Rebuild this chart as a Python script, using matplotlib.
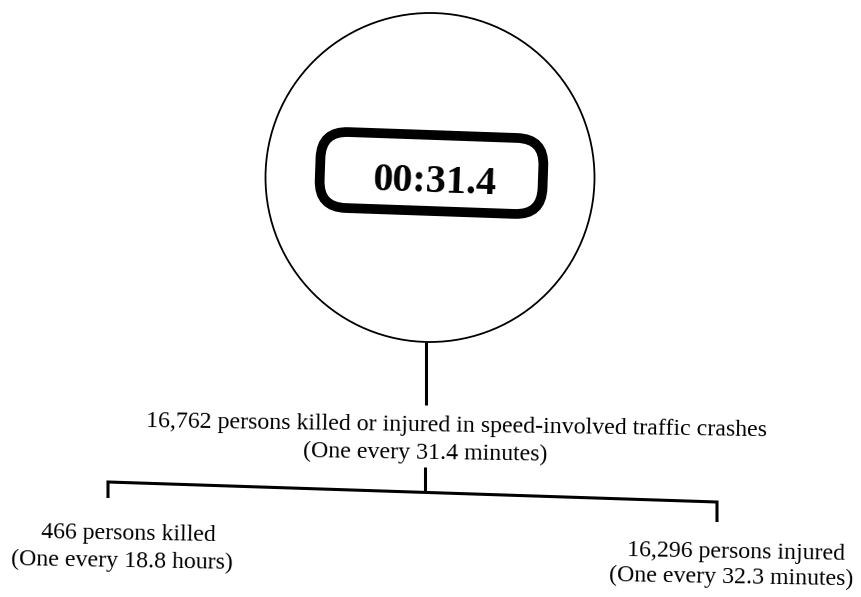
import matplotlib
matplotlib.use("Agg")
import matplotlib.pyplot as plt
from matplotlib.patches import Circle, FancyBboxPatch
from matplotlib.transforms import Affine2D

# ---- data ----
clock_label = "00:31.4"
total_count = 16762
killed_count = 466
injured_count = 16296
total_interval = "31.4 minutes"
killed_interval = "18.8 hours"
injured_interval = "32.3 minutes"

W, H = 861, 597
fig = plt.figure(figsize=(W / 100, H / 100), dpi=100)
ax = fig.add_axes([0, 0, 1, 1])
ax.set_xlim(0, W)
ax.set_ylim(H, 0)
ax.axis("off")

FONT = "Liberation Serif"
FS = 17.2

# circle
ax.add_patch(Circle((430, 177.5), 164.5, fill=False, lw=1.3, ec="black"))

# rounded rectangle (slightly rotated, like the scan)
rw, rh = 223, 76
cx, cy = 431.5, 173
box = FancyBboxPatch((cx - rw / 2, cy - rh / 2), rw, rh,
                     boxstyle="round,pad=0,rounding_size=27",
                     fill=False, lw=7, ec="black")
box.set_transform(Affine2D().rotate_deg_around(cx, cy, 2.0) + ax.transData)
ax.add_patch(box)
ax.text(434, 192, clock_label, fontsize=29, fontweight="bold", family=FONT,
        ha="center", va="baseline", rotation=-2, rotation_mode="anchor")

# connector from circle
ax.plot([425.5, 425.5], [342, 405], color="black", lw=2.2, solid_capstyle="butt")

# main text
ax.text(456, 432, f"{total_count:,} persons killed or injured in speed-involved traffic crashes",
        fontsize=FS, family=FONT, ha="center", va="baseline",
        rotation=-0.85, rotation_mode="anchor")
ax.text(425, 458.5, f"(One every {total_interval})",
        fontsize=FS, family=FONT, ha="center", va="baseline",
        rotation=-0.85, rotation_mode="anchor")

# bracket
x0, y0, x1, y1 = 108, 482, 717, 502
ym = y0 + (y1 - y0) * (425 - x0) / (x1 - x0)
ax.plot([425, 425], [467, ym], color="black", lw=2.2, solid_capstyle="butt")
ax.plot([x0, x0, x1, x1], [y0 + 16, y0, y1, y1 + 20], color="black", lw=2.2,
        solid_joinstyle="miter", solid_capstyle="butt")

# left branch
ax.text(128, 540, f"{killed_count:,} persons killed", fontsize=FS, family=FONT,
        ha="center", va="baseline", rotation=-1, rotation_mode="anchor")
ax.text(122, 567, f"(One every {killed_interval})", fontsize=FS, family=FONT,
        ha="center", va="baseline", rotation=-1, rotation_mode="anchor")

# right branch
ax.text(736, 558, f"{injured_count:,} persons injured", fontsize=FS, family=FONT,
        ha="center", va="baseline", rotation=-1, rotation_mode="anchor")
ax.text(731, 583, f"(One every {injured_interval})", fontsize=FS, family=FONT,
        ha="center", va="baseline", rotation=-1, rotation_mode="anchor")

fig.savefig("out.png", dpi=100, facecolor="white")
